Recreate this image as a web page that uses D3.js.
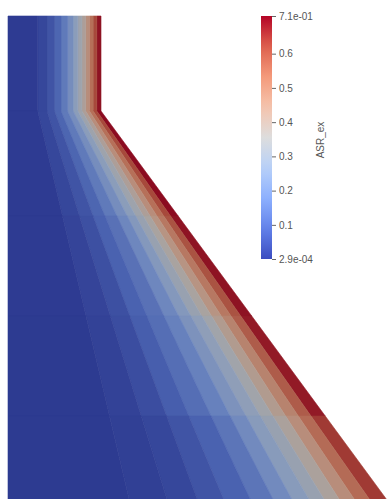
<!DOCTYPE html>
<html>
<head>
<meta charset="utf-8">
<script src="https://cdn.jsdelivr.net/npm/d3@7"></script>
<style>
  body { margin: 0; background: #fff; }
  svg { display: block; }
  text { font-family: "Liberation Sans", Arial, sans-serif; }
</style>
</head>
<body>
<div id="chart"></div>
<script>
document.addEventListener("DOMContentLoaded", function() {

    var width = 389;
    var height = 499;

    // dam section, metres (x from upstream face, depth below crest)
    var crestWidth = 23.25;
    var kneeDepth = 23.75;
    var baseDepth = 121;
    var baseFaceX = 94.75;

    // layers measured as a fraction of the local thickness from the downstream face
    var layerEdges = [0, 0.045, 0.085, 0.125, 0.165, 0.205, 0.25, 0.3, 0.36, 0.43, 0.5, 0.58, 0.68, 1];
    // depth bands (m) and the ASR value of each layer in that band
    var rowDepths = [0, 23.75, 50, 75, 100, 121];
    var asrRow0 = [0.69, 0.62, 0.54, 0.46, 0.39, 0.33, 0.27, 0.21, 0.15, 0.10, 0.06, 0.03, 0.005];
    var asrRow1 = [0.70, 0.62, 0.54, 0.46, 0.39, 0.33, 0.27, 0.21, 0.15, 0.10, 0.06, 0.03, 0.005];
    var asrRow2 = [0.69, 0.60, 0.52, 0.44, 0.37, 0.31, 0.25, 0.19, 0.13, 0.09, 0.05, 0.025, 0.004];
    var asrRow3 = [0.68, 0.58, 0.49, 0.41, 0.34, 0.28, 0.23, 0.17, 0.12, 0.08, 0.045, 0.02, 0.003];
    var asrRow4 = [0.64, 0.55, 0.46, 0.38, 0.31, 0.26, 0.20, 0.14, 0.09, 0.06, 0.03, 0.015, 0.003];
    var asrRows = [asrRow0, asrRow1, asrRow2, asrRow3, asrRow4];

    // colour bar
    var asrMin = 2.9e-4;
    var asrMax = 0.71;
    var tickValues = [0.1, 0.2, 0.3, 0.4, 0.5, 0.6];
    var endLabels = ["2.9e-04", "7.1e-01"];
    var fieldName = "ASR_ex";

    // paraview "cool to warm"
    var coolWarm = ["#3b4cc0", "#6282ea", "#8db0fe", "#b8d0f9", "#dddddd",
                    "#f5c4ad", "#f49a7b", "#de604d", "#b40426"];
    var interp = d3.piecewise(d3.interpolateRgb, coolWarm);
    var color = d3.scaleSequential(interp).domain([asrMin, asrMax]);
    var shade = 0.75; // surface lighting
    function litColor(v) {
        var c = d3.rgb(color(v));
        return d3.rgb(c.r * shade, c.g * shade, c.b * shade).toString();
    }

    var x = d3.scaleLinear().domain([0, baseFaceX]).range([8, 387]);
    var y = d3.scaleLinear().domain([0, baseDepth]).range([16, 500]);

    function faceX(d) {
        if (d <= kneeDepth) return crestWidth;
        return crestWidth + (baseFaceX - crestWidth) * (d - kneeDepth) / (baseDepth - kneeDepth);
    }
    function px(s, d) {
        var f = faceX(d);
        return x(f - s * f);
    }

    var cells = [];
    asrRows.forEach(function(vals, r) {
        vals.forEach(function(v, i) {
            cells.push({ d0: rowDepths[r], d1: rowDepths[r + 1],
                         s0: layerEdges[i], s1: layerEdges[i + 1], value: v });
        });
    });

    var svg = d3.select("#chart")
        .append("svg")
        .attr("width", width)
        .attr("height", height);

    svg.append("g")
        .selectAll("path")
        .data(cells)
        .enter()
        .append("path")
        .attr("d", function(c) {
            return "M" + px(c.s0, c.d0) + "," + y(c.d0) +
                   "L" + px(c.s1, c.d0) + "," + y(c.d0) +
                   "L" + px(c.s1, c.d1) + "," + y(c.d1) +
                   "L" + px(c.s0, c.d1) + "," + y(c.d1) + "Z";
        })
        .attr("fill", function(c) { return litColor(c.value); })
        .attr("stroke", function(c) { return litColor(c.value); })
        .attr("stroke-width", 0.6);

    // colour legend
    var barX = 261, barW = 11;
    var cb = d3.scaleLinear().domain([asrMin, asrMax]).range([259, 16]);

    var grad = svg.append("defs").append("linearGradient")
        .attr("id", "asrGrad")
        .attr("x1", 0).attr("y1", 1).attr("x2", 0).attr("y2", 0);
    d3.range(0, 1.0001, 0.05).forEach(function(t) {
        grad.append("stop")
            .attr("offset", t)
            .attr("stop-color", interp(t));
    });

    svg.append("rect")
        .attr("x", barX)
        .attr("y", cb(asrMax))
        .attr("width", barW)
        .attr("height", cb(asrMin) - cb(asrMax))
        .attr("fill", "url(#asrGrad)");

    var axis = d3.axisRight(cb)
        .tickValues([asrMin].concat(tickValues, [asrMax]))
        .tickSize(4)
        .tickPadding(3)
        .tickFormat(function(d) {
            if (d === asrMin) return endLabels[0];
            if (d === asrMax) return endLabels[1];
            return d3.format(".1f")(d);
        });

    var ax = svg.append("g")
        .attr("transform", "translate(" + (barX + barW) + ",0)")
        .call(axis);
    ax.select(".domain").remove();
    ax.selectAll("line").attr("stroke", "#666");
    ax.selectAll("text")
        .attr("fill", "#555")
        .style("font-size", "10px")
        .style("font-family", "'Liberation Sans', Arial, sans-serif");

    svg.append("text")
        .attr("transform", "translate(324,140) rotate(-90)")
        .attr("text-anchor", "middle")
        .attr("fill", "#555")
        .style("font-size", "10px")
        .text(fieldName);
});
</script>
</body>
</html>
